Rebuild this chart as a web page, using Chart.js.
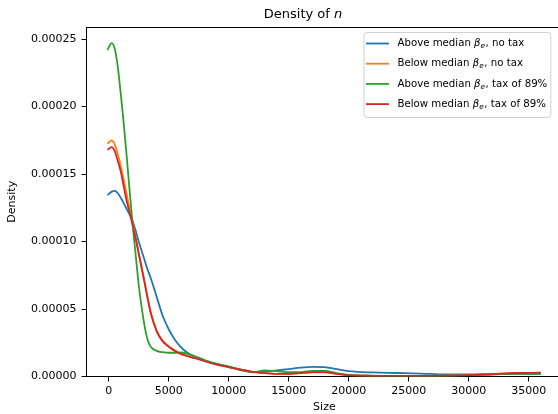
<!DOCTYPE html>
<html>
<head>
<meta charset="utf-8">
<script src="https://cdn.jsdelivr.net/npm/chart.js@4.4.1/dist/chart.umd.min.js"></script>
<style>
  html, body { margin: 0; padding: 0; background: #fff; overflow: hidden; }
  #wrap { width: 606px; height: 414px; }
</style>
</head>
<body>
<div id="wrap"><canvas id="density_n"></canvas></div>

<script>
// KDE evaluation grid (firm size)
const sizes = [-100, 250, 500, 750, 1000, 1250, 1500, 1750, 2000, 2250, 2500, 2750, 3000, 3250, 3500,
  4000, 4500, 5000, 5500, 6000, 6500, 7000, 7500, 8000, 9000, 10000, 11000, 12000, 13000, 14000,
  15000, 16000, 17000, 18000, 19000, 20000, 22000, 24000, 26000, 28000, 30000, 32000, 34000, 36000];

const aboveNoTax = [1.344e-4, 1.37e-4, 1.376e-4, 1.36e-4, 1.325e-4, 1.285e-4, 1.24e-4, 1.2e-4, 1.15e-4, 1.08e-4,
  1.0e-4, 0.93e-4, 0.86e-4, 0.79e-4, 0.73e-4, 0.59e-4, 0.45e-4, 0.35e-4, 0.275e-4, 0.22e-4,
  0.18e-4, 0.155e-4, 0.135e-4, 0.12e-4, 0.093e-4, 0.07e-4, 0.05e-4, 0.035e-4, 0.035e-4, 0.045e-4,
  0.055e-4, 0.065e-4, 0.072e-4, 0.07e-4, 0.055e-4, 0.04e-4, 0.03e-4, 0.026e-4, 0.022e-4, 0.015e-4,
  0.015e-4, 0.018e-4, 0.02e-4, 0.018e-4];

const belowNoTax = [1.725e-4, 1.75e-4, 1.72e-4, 1.65e-4, 1.56e-4, 1.46e-4, 1.35e-4, 1.24e-4, 1.14e-4, 1.03e-4,
  0.92e-4, 0.81e-4, 0.70e-4, 0.585e-4, 0.48e-4, 0.34e-4, 0.265e-4, 0.225e-4, 0.195e-4, 0.17e-4,
  0.155e-4, 0.14e-4, 0.13e-4, 0.115e-4, 0.09e-4, 0.07e-4, 0.05e-4, 0.035e-4, 0.025e-4, 0.02e-4,
  0.02e-4, 0.025e-4, 0.03e-4, 0.03e-4, 0.02e-4, 0.01e-4, 0.005e-4, 0.004e-4, 0.004e-4, 0.006e-4,
  0.01e-4, 0.017e-4, 0.025e-4, 0.028e-4];

const aboveTax89 = [2.42e-4, 2.47e-4, 2.43e-4, 2.30e-4, 2.10e-4, 1.88e-4, 1.63e-4, 1.37e-4, 1.12e-4, 0.90e-4,
  0.68e-4, 0.51e-4, 0.37e-4, 0.27e-4, 0.22e-4, 0.19e-4, 0.18e-4, 0.176e-4, 0.176e-4, 0.178e-4,
  0.17e-4, 0.155e-4, 0.14e-4, 0.12e-4, 0.093e-4, 0.075e-4, 0.05e-4, 0.03e-4, 0.045e-4, 0.04e-4,
  0.032e-4, 0.033e-4, 0.042e-4, 0.042e-4, 0.025e-4, 0.012e-4, 0.006e-4, 0.004e-4, 0.003e-4, 0.005e-4,
  0.01e-4, 0.015e-4, 0.02e-4, 0.02e-4];

const belowTax89 = [1.68e-4, 1.70e-4, 1.67e-4, 1.60e-4, 1.52e-4, 1.41e-4, 1.30e-4, 1.21e-4, 1.12e-4, 1.02e-4,
  0.91e-4, 0.80e-4, 0.69e-4, 0.575e-4, 0.47e-4, 0.335e-4, 0.26e-4, 0.22e-4, 0.19e-4, 0.168e-4,
  0.152e-4, 0.14e-4, 0.128e-4, 0.113e-4, 0.088e-4, 0.07e-4, 0.05e-4, 0.035e-4, 0.025e-4, 0.02e-4,
  0.02e-4, 0.025e-4, 0.032e-4, 0.032e-4, 0.02e-4, 0.01e-4, 0.005e-4, 0.004e-4, 0.004e-4, 0.006e-4,
  0.01e-4, 0.018e-4, 0.026e-4, 0.028e-4];

const seriesLabels = ['Above median βₑ, no tax', 'Below median βₑ, no tax',
  'Above median βₑ, tax of 89%', 'Below median βₑ, tax of 89%'];
const seriesColors = ['#1f77b4', '#ff7f0e', '#2ca02c', '#d62728'];

const xTicks = [0, 5000, 10000, 15000, 20000, 25000, 30000, 35000];
const yTicks = [0, 0.00005, 0.0001, 0.00015, 0.0002, 0.00025];

const FONT = '"DejaVu Sans", sans-serif';

var toPoints = function(ys) {
  return sizes.map((x, i) => ({ x: x, y: ys[i] }));
};

// box around the plot area (top/right spines)
const frame = {
  id: 'frame',
  afterDatasetsDraw(chart) {
    const { ctx, chartArea: a } = chart;
    ctx.save();
    ctx.strokeStyle = '#000';
    ctx.lineWidth = 1;
    ctx.beginPath();
    ctx.moveTo(a.left, a.top + 0.5);
    ctx.lineTo(a.right, a.top + 0.5);
    ctx.lineTo(a.right, a.bottom);
    ctx.stroke();
    ctx.restore();
  }
};

// title with italic n
const titleText = {
  id: 'titleText',
  afterDraw(chart) {
    const ctx = chart.ctx;
    ctx.save();
    ctx.fillStyle = '#000';
    ctx.textBaseline = 'alphabetic';
    ctx.font = '13px ' + FONT;
    const a = 'Density of ';
    const wa = ctx.measureText(a).width;
    ctx.font = 'italic 13px ' + FONT;
    const wb = ctx.measureText('n').width;
    let x = chart.width / 2 - (wa + wb) / 2;
    ctx.font = '13px ' + FONT;
    ctx.fillText(a, x, 18);
    ctx.font = 'italic 13px ' + FONT;
    ctx.fillText('n', x + wa, 18);
    ctx.restore();
  }
};

// legend with subscripted beta
const LEG_FS = 10.2;
var drawLabel = function(ctx, label, x, y, draw) {
  const parts = label.split('βₑ');
  const x0 = x;
  ctx.font = LEG_FS + 'px ' + FONT;
  if (draw) ctx.fillText(parts[0], x, y);
  x += ctx.measureText(parts[0]).width;
  ctx.font = 'italic ' + LEG_FS + 'px ' + FONT;
  if (draw) ctx.fillText('β', x, y);
  x += ctx.measureText('β').width;
  ctx.font = 'italic ' + (LEG_FS * 0.72) + 'px ' + FONT;
  if (draw) ctx.fillText('e', x, y + 2.8);
  x += ctx.measureText('e').width + 0.5;
  ctx.font = LEG_FS + 'px ' + FONT;
  if (draw) ctx.fillText(parts[1], x, y);
  x += ctx.measureText(parts[1]).width;
  return x - x0;
};

const legendBox = {
  id: 'legendBox',
  afterDraw(chart) {
    const { ctx, chartArea } = chart;
    const right = chartArea.right - 12;
    const top = chartArea.top + 5;
    ctx.save();
    let maxW = 0;
    chart.data.datasets.forEach(ds => { maxW = Math.max(maxW, drawLabel(ctx, ds.label, 0, 0, false)); });
    const w = 34 + maxW + 3, h = 85, left = right - w;
    ctx.beginPath();
    ctx.roundRect(left + 0.5, top + 0.5, w, h, 3);
    ctx.fillStyle = 'rgba(255,255,255,0.85)';
    ctx.fill();
    ctx.strokeStyle = '#d0d0d0';
    ctx.lineWidth = 1;
    ctx.stroke();

    chart.data.datasets.forEach((ds, i) => {
      const y = top + 11.5 + i * 20.2;
      ctx.strokeStyle = ds.borderColor;
      ctx.lineWidth = 1.8;
      ctx.beginPath();
      ctx.moveTo(left + 2.5, y);
      ctx.lineTo(left + 25.5, y);
      ctx.stroke();
      ctx.fillStyle = '#000';
      ctx.textBaseline = 'middle';
      drawLabel(ctx, ds.label, left + 34, y, true);
    });
    ctx.restore();
  }
};

Chart.defaults.font.family = FONT;
Chart.defaults.font.size = 11;
Chart.defaults.color = '#000';

const datasets = [aboveNoTax, belowNoTax, aboveTax89, belowTax89].map((ys, i) => ({
  label: seriesLabels[i],
  data: toPoints(ys),
  borderColor: seriesColors[i],
  backgroundColor: seriesColors[i],
  borderWidth: 1.8,
  pointRadius: 0,
  fill: false,
  cubicInterpolationMode: 'monotone',
  order: 4 - i
}));

const ctx = document.getElementById('density_n');
new Chart(ctx, {
  type: 'line',
  data: { datasets: datasets },
  plugins: [frame, titleText, legendBox],
  options: {
    responsive: true,
    maintainAspectRatio: false,
    animation: false,
    layout: { padding: { top: 27, right: 43.7, left: 0, bottom: 0 } },
    plugins: {
      legend: { display: false },
      tooltip: { enabled: false }
    },
    scales: {
      x: {
        type: 'linear',
        min: -1850,
        max: 37800,
        afterBuildTicks: s => { s.ticks = xTicks.map(v => ({ value: v })); },
        afterFit: s => { s.height = 37.5; },
        grid: { drawOnChartArea: false, drawTicks: true, tickLength: 5, color: '#000' },
        border: { color: '#000', width: 1 },
        ticks: { callback: v => String(v), padding: 3, maxRotation: 0, autoSkip: false, color: '#000' },
        title: { display: true, text: 'Size', color: '#000', padding: 0 }
      },
      y: {
        min: 0,
        max: 0.000259,
        afterBuildTicks: s => { s.ticks = yTicks.map(v => ({ value: v })); },
        afterFit: s => { s.width = 86.5; },
        grid: { drawOnChartArea: false, drawTicks: true, tickLength: 5, color: '#000' },
        border: { color: '#000', width: 1 },
        ticks: { callback: v => v.toFixed(5), padding: 5, color: '#000' },
        title: { display: true, text: 'Density', color: '#000', padding: { top: 6, bottom: 0 } }
      }
    }
  }
});
</script>
</body>
</html>
